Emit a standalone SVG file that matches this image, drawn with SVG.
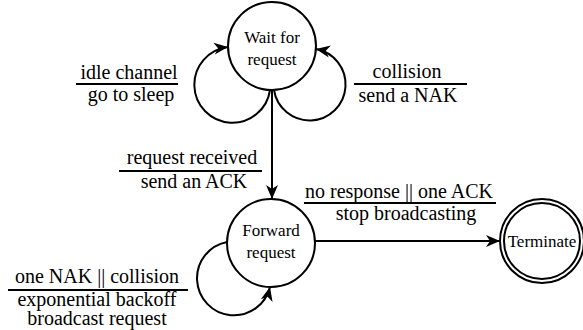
<svg xmlns="http://www.w3.org/2000/svg" width="583" height="330" viewBox="0 0 583 330">
  <style>
    .state { fill: #fff; stroke: #000; stroke-width: 2; }
    .edge { fill: none; stroke: #000; stroke-width: 2; }
    .bar { stroke: #000; stroke-width: 1.8; }
    text { font-family: 'Liberation Serif', 'Times New Roman', serif; fill: #000; text-anchor: middle; }
    .node-text { font-size: 17px; }
    .label { font-size: 20px; }
  </style>
  <defs>
    <marker id="arrow" markerUnits="userSpaceOnUse" markerWidth="15" markerHeight="13" refX="14" refY="6.5" orient="auto">
      <path d="M0,0.5 L14,6.5 L0,12.5 L4,6.5 Z" fill="#000"/>
    </marker>
  </defs>

  <rect width="583" height="330" fill="#fff"/>

  <!-- transitions -->
  <g id="connectors">
    <path class="edge" d="M270,90 A38,38 0 1 1 228,47" marker-end="url(#arrow)"/>
    <path class="edge" d="M274,90 A36,36 0 1 0 316,49" marker-end="url(#arrow)"/>
    <path class="edge" d="M272,90 L272,199" marker-end="url(#arrow)"/>
    <path class="edge" d="M227,242 A37,37 0 1 0 270,287" marker-end="url(#arrow)"/>
    <path class="edge" d="M315,241 L500,241" marker-end="url(#arrow)"/>
  </g>

  <!-- transition labels: condition over action -->
  <g id="label-idle">
    <text class="label" x="129" y="79">idle channel</text>
    <line class="bar" x1="76" y1="84" x2="178" y2="84"/>
    <text class="label" x="131" y="101">go to sleep</text>
  </g>
  <g id="label-collision">
    <text class="label" x="407" y="78">collision</text>
    <line class="bar" x1="354" y1="84" x2="467" y2="84"/>
    <text class="label" x="408" y="102">send a NAK</text>
  </g>
  <g id="label-received">
    <text class="label" x="192" y="164">request received</text>
    <line class="bar" x1="119" y1="171" x2="262" y2="171"/>
    <text class="label" x="194" y="188">send an ACK</text>
  </g>
  <g id="label-stop">
    <text class="label" x="399" y="198">no response || one ACK</text>
    <line class="bar" x1="304" y1="203" x2="496" y2="203"/>
    <text class="label" x="406" y="220">stop broadcasting</text>
  </g>
  <g id="label-backoff">
    <text class="label" x="97" y="283">one NAK || collision</text>
    <line class="bar" x1="8" y1="290" x2="188" y2="290"/>
    <text class="label" x="97" y="306">exponential backoff</text>
    <text class="label" x="97" y="325">broadcast request</text>
  </g>

  <!-- states -->
  <g id="wait">
    <circle class="state" cx="272" cy="46" r="44"/>
    <text class="node-text" x="272" y="43">Wait for</text>
    <text class="node-text" x="272" y="65">request</text>
  </g>
  <g id="forward">
    <circle class="state" cx="271" cy="243" r="44"/>
    <text class="node-text" x="271" y="236">Forward</text>
    <text class="node-text" x="271" y="258">request</text>
  </g>
  <g id="terminate">
    <circle class="state" cx="542" cy="241" r="42"/>
    <circle class="state" cx="542" cy="241" r="38"/>
    <text class="node-text" x="542" y="247">Terminate</text>
  </g>
</svg>
